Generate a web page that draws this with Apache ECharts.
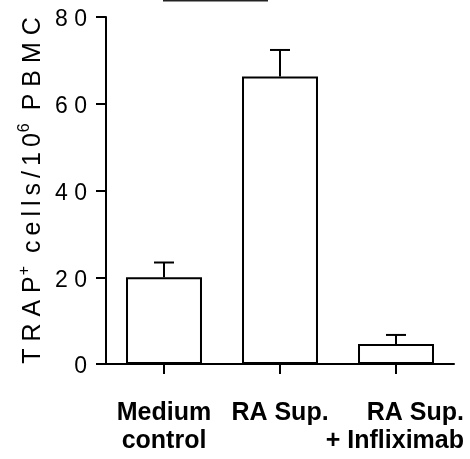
<!DOCTYPE html>
<html>
<head>
<meta charset="utf-8">
<script src="https://cdn.jsdelivr.net/npm/echarts@6/dist/echarts.min.js"></script>
<style>html,body{margin:0;padding:0;background:#fff;}#c{width:470px;height:459px;}</style>
</head>
<body>
<div id="c"></div>
<script>
var categories = ["Medium\ncontrol", "RA Sup.", "RA Sup.\n+ Infliximab"];
var means = [20.0, 66.3, 4.6];
var errors = [3.4, 6.1, 2.1];
var yTicks = [0, 20, 40, 60, 80];

var chart = echarts.init(document.getElementById('c'), null, {renderer: 'canvas'});
var font = '"Liberation Sans", Arial, Helvetica, sans-serif';
var ts = '\u2009';

chart.setOption({
  animation: false,
  backgroundColor: '#fff',
  grid: {left: 106, right: 16, top: 17, bottom: 95, containLabel: false, outerBoundsMode: 'none'},
  xAxis: {
    type: 'category',
    data: categories,
    boundaryGap: true,
    axisLine: {lineStyle: {color: '#000', width: 2}},
    axisTick: {show: true, alignWithLabel: true, length: 10, lineStyle: {color: '#000', width: 2}},
    axisLabel: {
      interval: 0,
      margin: 35,
      color: '#000',
      fontFamily: font,
      fontWeight: 'bold',
      fontSize: 25,
      lineHeight: 28,
      formatter: function (v, i) {
        if (i === 2) {
          return v.split('\n').map(function (s) { return '{r|' + s + '}'; }).join('\n');
        }
        return v;
      },
      rich: {
        r: {width: 136, align: 'right', fontFamily: font, fontWeight: 'bold', fontSize: 25, lineHeight: 28, color: '#000'}
      }
    }
  },
  yAxis: {
    type: 'value',
    min: yTicks[0],
    max: yTicks[yTicks.length - 1],
    interval: 20,
    name: 'T R A P{sup|+} ' + ts + ['c', 'e', 'l', 'l', 's', '/', '1', '0'].join(ts) + '{sup|6} ' + ts + 'P B M C',
    nameLocation: 'middle',
    nameGap: 57,
    nameRotate: 90,
    nameMoveOverlap: false,
    nameTextStyle: {
      color: '#000',
      fontFamily: font,
      fontSize: 25,
      lineHeight: 32,
      rich: {
        sup: {fontSize: 16, verticalAlign: 'top', lineHeight: 32, fontFamily: font, color: '#000', padding: [0, 1, 14, 1]}
      }
    },
    axisLine: {show: true, lineStyle: {color: '#000', width: 2}},
    axisTick: {show: true, length: 10, lineStyle: {color: '#000', width: 2}},
    splitLine: {show: false},
    axisLabel: {
      margin: 19,
      color: '#000',
      fontFamily: font,
      fontSize: 23,
      formatter: function (v) { return '{n|' + String(v).split('').join(' ') + '}'; },
      rich: {
        n: {fontFamily: font, fontSize: 23, color: '#000', padding: [6, 0, 0, 0]}
      }
    }
  },
  graphic: [{
    type: 'line',
    shape: {x1: 163, y1: 0.5, x2: 268, y2: 0.5},
    style: {stroke: '#222', lineWidth: 2}
  }],
  series: [
    {
      type: 'bar',
      data: means,
      barWidth: '65.5%',
      itemStyle: {color: '#fff', borderColor: '#000', borderWidth: 2},
      z: 2
    },
    {
      type: 'custom',
      data: means.map(function (m, i) { return [i, m, m + errors[i]]; }),
      renderItem: function (params, api) {
        var x = api.value(0);
        var base = api.coord([x, api.value(1)]);
        var top = api.coord([x, api.value(2)]);
        var hw = 10;
        return {
          type: 'group',
          children: [
            {type: 'line', shape: {x1: base[0], y1: base[1], x2: top[0], y2: top[1]}, style: {stroke: '#000', lineWidth: 2}},
            {type: 'line', shape: {x1: top[0] - hw, y1: top[1], x2: top[0] + hw, y2: top[1]}, style: {stroke: '#000', lineWidth: 2}}
          ]
        };
      },
      z: 3
    }
  ]
});
</script>
</body>
</html>
